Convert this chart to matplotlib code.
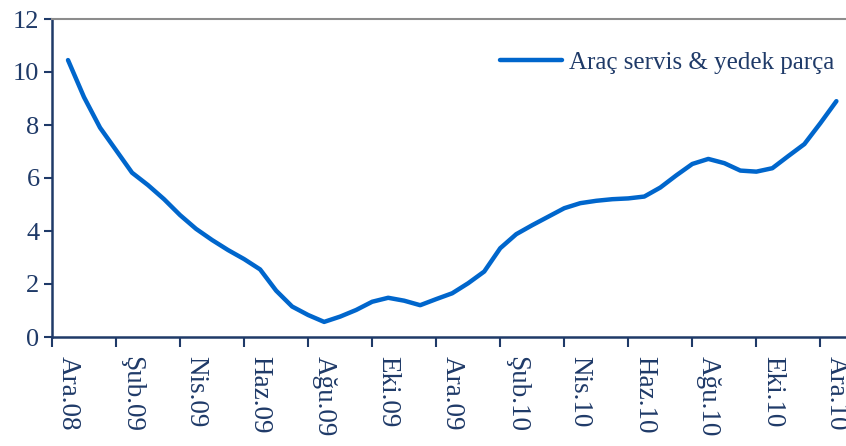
import numpy as np
import matplotlib.pyplot as plt

# aylik etiketler (her iki ayda bir)
etiketler = ["Ara.08", "Şub.09", "Nis.09", "Haz.09", "Ağu.09", "Eki.09", "Ara.09",
             "Şub.10", "Nis.10", "Haz.10", "Ağu.10", "Eki.10", "Ara.10"]

# yarim ay araliklarla okunan degerler (Ara.08 - Ara.10)
degerler = [10.45, 9.05, 7.9, 7.05, 6.2, 5.73, 5.2, 4.6, 4.08, 3.66,
            3.28, 2.94, 2.55, 1.75, 1.15, 0.83, 0.57, 0.77, 1.02, 1.33,
            1.48, 1.37, 1.2, 1.43, 1.65, 2.03, 2.47, 3.35, 3.88, 4.22,
            4.54, 4.86, 5.05, 5.14, 5.2, 5.23, 5.3, 5.64, 6.1, 6.53,
            6.72, 6.56, 6.28, 6.24, 6.37, 6.83, 7.28, 8.07, 8.9]
ay = np.arange(len(degerler)) / 2.0

lacivert = "#1F3A68"
mavi = "#0066CC"

plt.rcParams['font.family'] = ['Liberation Serif', 'DejaVu Serif']

fig = plt.figure(figsize=(8.46, 4.46), dpi=100)
ax = fig.add_axes([52 / 846, 109 / 446, 794 / 846, 318 / 446])

ax.plot(ay, degerler, '-', color=mavi, linewidth=3.2, label="Araç servis & yedek parça",
        solid_joinstyle='round', solid_capstyle='round')

ax.set_xlim(-0.5, 24.3)
ax.set_ylim(0, 12)
ax.set_yticks(range(0, 13, 2))

# kategori sinirlarinda tik, ortasinda etiket
ax.set_xticks(np.arange(-0.5, 25, 2))
ax.set_xticklabels([])
ax.set_xticks(np.arange(0, 25, 2), minor=True)
ax.set_xticklabels(etiketler, minor=True, rotation=-90, fontsize=19.5, color=lacivert)
ax.tick_params(axis='x', which='minor', length=0, pad=14)
ax.tick_params(axis='x', which='major', length=7, width=1.5, color=lacivert, direction='out')
ax.tick_params(axis='y', length=6, width=1.5, color=lacivert, labelsize=19,
               labelcolor=lacivert, pad=3)

ax.spines['right'].set_visible(False)
ax.spines['top'].set_color('#8C8C8C')
ax.spines['top'].set_linewidth(1.5)
for s in ['left', 'bottom']:
    ax.spines[s].set_color(lacivert)
    ax.spines[s].set_linewidth(1.8)

leg = ax.legend(loc='upper right', bbox_to_anchor=(0.998, 0.93), frameon=False,
                fontsize=18, handlelength=2.45, handletextpad=0.3, borderaxespad=0)
for t in leg.get_texts():
    t.set_color(lacivert)

fig.savefig("out.png", dpi=100)
